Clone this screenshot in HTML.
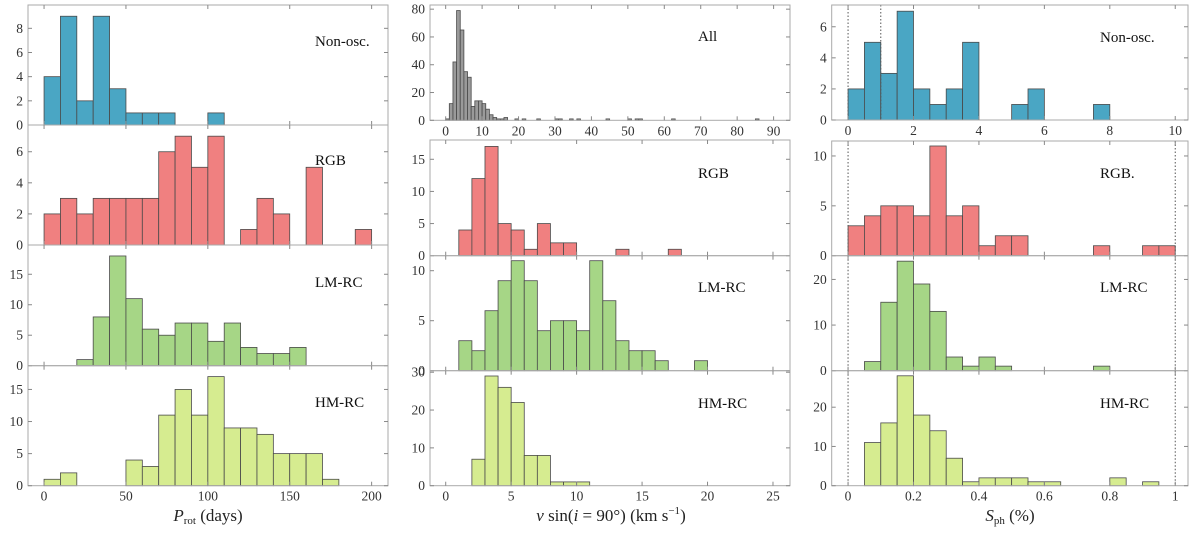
<!DOCTYPE html>
<html><head><meta charset="utf-8"><style>
body{margin:0;background:#fff;}
text{font-family:"Liberation Serif","DejaVu Serif",serif !important;}
</style></head><body>
<svg id="c" width="1200" height="528" xmlns="http://www.w3.org/2000/svg" font-family="Liberation Serif, serif"></svg>
<script>
// ---- data (counts per bin) ----
const protBins = 10;
const protNonOsc = [4,9,2,9,3,1,1,1,0,0,1];
const protRGB = [2,3,2,3,3,3,3,6,7,5,7,0,1,3,2,0,5,0,0,1];
const protLMRC = [0,0,1,8,18,11,6,5,7,7,4,7,3,2,2,3];
const protHMRC = [1,2,0,0,0,4,3,11,15,11,17,9,9,8,5,5,5,1];
const vsiniBins = 1;
const vsiniAll = [1,12,42,79,65,35,31,10,14,14,12,8,4,2,1,1,2,0,0,1,0,1,0,0,0,1,0,0,0,0,1,1,0,0,1,0,1,0,0,0,0,0,0,0,1,0,0,0,0,0,1,0,1,1,0,0,0,0,0,0,0,0,1,0,0,0,0,0,0,0,0,0,0,0,0,0,0,0,0,0,0,0,0,0,0,1];
const vsiniRGB = [0,4,12,17,5,4,1,5,2,2,0,0,0,1,0,0,0,1];
const vsiniLMRC = [0,3,2,6,9,11,9,4,5,5,4,11,7,3,2,2,1,0,0,1];
const vsiniHMRC = [0,0,7,29,26,22,8,8,1,1,1];
const sphNonOsc = [2,5,3,7,2,1,2,5,0,0,1,2,0,0,0,1];
const sphRGB = [3,4,5,5,4,11,4,5,1,2,2,0,0,0,0,1,0,0,1,1];
const sphLMRC = [0,2,15,24,19,13,3,1,3,1,0,0,0,0,0,1];
const sphHMRC = [0,11,16,28,18,14,7,1,2,2,2,1,1,0,0,0,2,0,1];

const BLUE="#4aa6c4", RED="#f08080", GREEN="#a6d686", LIME="#d6ec90", GRAY="#9a9a9a";
const FONT="'Liberation Serif', serif";
const panels = [
 {n:"prot-non-osc",L:28,R:388,T:5,B:125,xmin:-9.8,xmax:210,ymax:9.93,data:protNonOsc,bw:protBins,col:BLUE,yt:[0,2,4,6,8],xt:[0,50,100,150,200],lab:"Non-osc.",lx:315,ly:46},
 {n:"prot-rgb",L:28,R:388,T:125,B:245,xmin:-9.8,xmax:210,ymax:7.72,data:protRGB,bw:protBins,col:RED,yt:[0,2,4,6],xt:[0,50,100,150,200],lab:"RGB",lx:315,ly:165},
 {n:"prot-lm-rc",L:28,R:388,T:245,B:365.7,xmin:-9.8,xmax:210,ymax:19.8,data:protLMRC,bw:protBins,col:GREEN,yt:[0,5,10,15],xt:[0,50,100,150,200],lab:"LM-RC",lx:315,ly:287},
 {n:"prot-hm-rc",L:28,R:388,T:365.7,B:485.7,xmin:-9.8,xmax:210,ymax:18.7,data:protHMRC,bw:protBins,col:LIME,yt:[0,5,10,15],xt:[0,50,100,150,200],lab:"HM-RC",lx:315,ly:407,xl:true},
 {n:"vsini-all",L:430,R:790,T:5,B:120.3,xmin:-4.3,xmax:94.5,ymax:83,data:vsiniAll,bw:vsiniBins,col:GRAY,yt:[0,20,40,60,80],xt:[0,10,20,30,40,50,60,70,80,90],lab:"All",lx:698,ly:41,xl:true},
 {n:"vsini-rgb",L:430,R:790,T:140,B:255.7,xmin:-1.2,xmax:26.3,ymax:18,data:vsiniRGB,bw:vsiniBins,col:RED,yt:[0,5,10,15],xt:[0,5,10,15,20,25],lab:"RGB",lx:698,ly:178},
 {n:"vsini-lm-rc",L:430,R:790,T:255.7,B:370.7,xmin:-1.2,xmax:26.3,ymax:11.5,data:vsiniLMRC,bw:vsiniBins,col:GREEN,yt:[0,5,10],xt:[0,5,10,15,20,25],lab:"LM-RC",lx:698,ly:292},
 {n:"vsini-hm-rc",L:430,R:790,T:370.7,B:485.7,xmin:-1.2,xmax:26.3,ymax:30.4,data:vsiniHMRC,bw:vsiniBins,col:LIME,yt:[0,10,20,30],xt:[0,5,10,15,20,25],lab:"HM-RC",lx:698,ly:408,xl:true},
 {n:"sph-non-osc",L:831.7,R:1188,T:5,B:120,xmin:-0.5,xmax:10.39,ymax:7.4,data:sphNonOsc,bw:0.5,col:BLUE,yt:[0,2,4,6],xt:[0,2,4,6,8,10],lab:"Non-osc.",lx:1100,ly:42,xl:true,dots:[0,1]},
 {n:"sph-rgb",L:831.7,R:1188,T:141,B:255.7,xmin:-0.05,xmax:1.039,ymax:11.5,data:sphRGB,bw:0.05,col:RED,yt:[0,5,10],xt:[0,0.2,0.4,0.6,0.8,1],lab:"RGB.",lx:1100,ly:178,dots:[0,1]},
 {n:"sph-lm-rc",L:831.7,R:1188,T:255.7,B:370.7,xmin:-0.05,xmax:1.039,ymax:25.2,data:sphLMRC,bw:0.05,col:GREEN,yt:[0,10,20],xt:[0,0.2,0.4,0.6,0.8,1],lab:"LM-RC",lx:1100,ly:292,dots:[0,1]},
 {n:"sph-hm-rc",L:831.7,R:1188,T:370.7,B:485.7,xmin:-0.05,xmax:1.039,ymax:29.3,data:sphHMRC,bw:0.05,col:LIME,yt:[0,10,20],xt:[0,0.2,0.4,0.6,0.8,1],lab:"HM-RC",lx:1100,ly:408,xl:true,dots:[0,1]}
];
const svg=document.getElementById('c');
const NS="http://www.w3.org/2000/svg";
function mk(tag,at,parent){const e=document.createElementNS(NS,tag);for(const k in at)e.setAttribute(k,at[k]);(parent||svg).appendChild(e);return e;}
panels.forEach(p=>{
  const g=mk('g',{});
  
  
  const X=v=>p.L+(v-p.xmin)/(p.xmax-p.xmin)*(p.R-p.L);
  const Y=v=>p.B-v/p.ymax*(p.B-p.T);
  p.data.forEach((v,i)=>{
    if(v<=0)return;
    const x0=X(i*p.bw),x1=X((i+1)*p.bw);
    const r=mk('rect',{x:x0,y:Y(v),width:x1-x0,height:p.B-Y(v),fill:p.col,stroke:"#4a4a4a","stroke-width":0.8},g);
    
    
  });
  (p.dots||[]).forEach(d=>{
    const l=mk('line',{x1:X(d),x2:X(d),y1:p.T,y2:p.B,stroke:"#555","stroke-width":1,"stroke-dasharray":"1.5,2"},g);
    
    
  });
  mk('rect',{x:p.L,y:p.T,width:p.R-p.L,height:p.B-p.T,fill:"none",stroke:"#aaa","stroke-width":1},g);
  p.yt.forEach(t=>{
    const y=Y(t);
    mk('line',{x1:p.L,x2:p.L+4,y1:y,y2:y,stroke:"#888"},g);
    mk('line',{x1:p.R,x2:p.R-4,y1:y,y2:y,stroke:"#888"},g);
    const tx=mk('text',{x:p.L-5,y:y+4.5,"text-anchor":"end","font-size":13.5,"font-family":FONT,fill:"#333"},g);
    tx.textContent=t;
    
    
  });
  p.xt.forEach(t=>{
    const x=X(t);
    mk('line',{x1:x,x2:x,y1:p.B,y2:p.B-4,stroke:"#888"},g);
    mk('line',{x1:x,x2:x,y1:p.T,y2:p.T+4,stroke:"#888"},g);
    if(p.xl){
      const tx=mk('text',{x:x,y:p.B+15,"text-anchor":"middle","font-size":13.5,"font-family":FONT,fill:"#333"},g);
      tx.textContent=t;
      
      
    }
  });
  const lb=mk('text',{x:p.lx,y:p.ly,"font-size":15,"font-family":FONT,fill:"#111"},g);
  lb.textContent=p.lab;
  
  
});
</script>
<svg width="1200" height="528" style="position:absolute;left:0;top:0">
 <text x="208" y="521" text-anchor="middle" font-size="17" font-family="Liberation Serif, serif" fill="#222"><tspan font-style="italic">P</tspan><tspan font-size="11" dy="3">rot</tspan><tspan dy="-3"> (days)</tspan></text>
 <text x="611" y="521" text-anchor="middle" font-size="17" font-family="Liberation Serif, serif" fill="#222"><tspan font-style="italic">v</tspan> sin(<tspan font-style="italic">i</tspan> = 90°) (km s<tspan font-size="11" dy="-7">−1</tspan><tspan dy="7">)</tspan></text>
 <text x="1010" y="521" text-anchor="middle" font-size="17" font-family="Liberation Serif, serif" fill="#222"><tspan font-style="italic">S</tspan><tspan font-size="11" dy="3">ph</tspan><tspan dy="-3"> (%)</tspan></text>
</svg>
</body></html>
